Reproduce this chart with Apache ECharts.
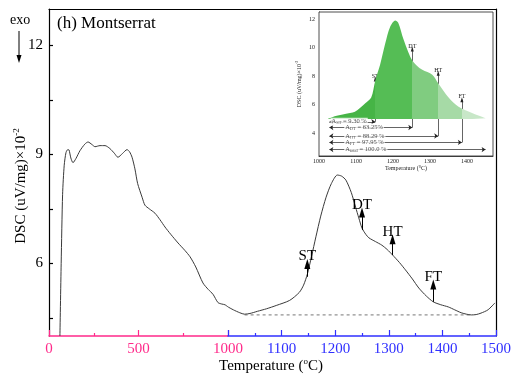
<!DOCTYPE html>
<html><head><meta charset="utf-8">
<script src="https://cdn.jsdelivr.net/npm/echarts@6/dist/echarts.min.js"></script>
<style>html,body{margin:0;padding:0;background:#fff}#c{width:514px;height:376px}</style>
</head><body><div id="c"></div>
<script>
// ---- data ----
const mainTemps = [61,68,76,85,95,105,112,122,134,150,173,200,218,240,257,285,313,340,365,385,410,436,450,464,480,495,520,536,560,592,620,648,680,721,760,788,820,860,890,916,944,965,983,1000,1010,1022,1031,1041,1055,1072,1090,1115,1133,1141,1148,1156,1164,1173,1183,1193,1204,1212,1220,1230,1238,1244,1250,1257,1263,1275,1287,1297,1307,1320,1331,1344,1356,1370,1383,1397,1411,1423,1435,1445,1454,1463,1472,1485,1498];
const mainDSC   = [4.0,6.0,7.9,8.7,9.05,9.13,9.12,8.9,8.77,8.88,9.1,9.28,9.34,9.27,9.21,9.24,9.24,9.16,9.03,8.92,9.02,9.13,9.07,8.92,8.6,8.2,7.82,7.6,7.5,7.38,7.2,7.0,6.8,6.56,6.35,6.18,5.9,5.46,5.28,5.15,4.92,4.88,4.86,4.8,4.72,4.64,4.6,4.62,4.68,4.75,4.84,4.98,5.2,5.4,5.7,6.2,6.73,7.3,7.82,8.2,8.43,8.4,8.29,7.95,7.55,7.25,6.97,6.8,6.7,6.6,6.5,6.38,6.23,6.02,5.82,5.57,5.32,5.1,4.94,4.86,4.8,4.72,4.64,4.6,4.58,4.59,4.63,4.72,4.91];
const baselineTemps = [1031, 1455];
const baselineDSC = [4.58, 4.58];
const markerNames = ['ST','DT','HT','FT'];
const markerTemps = [1148,1250,1307,1383];
const markerFrom  = [5.63,6.92,6.23,4.94];
const markerTo    = [5.98,7.4,6.66,5.42];

const insetTemps = [1024,1045,1070,1097,1125,1141,1152,1165,1179,1192,1206,1214,1228,1241,1252,1266,1279,1306,1322,1350,1377,1415,1450];
const insetDSC   = [5.0,5.2,5.35,5.5,6.1,6.5,7.7,8.8,10.3,11.45,11.9,11.75,10.6,9.7,9.1,8.7,8.45,8.1,7.5,6.5,5.85,5.4,5.05];
const insetMarkerTemps = [1152,1252,1322,1386];
const insetMarkerTop   = [7.8,9.9,8.2,6.35];
const areaSubs     = ['ST','DT','HT','FT','total'];
const areaPercents = ['9.30 %','63.25%','88.29 %','97.95 %','100.0 %'];
const areaRowDSC   = [4.8,4.4,3.8,3.35,2.85];
const areaRowEnds  = [1152,1252,1322,1386,1450];
const boxTemps = [1028,1450];
const boxDSC   = [5.0,2.6];

const yTicks = [4.5,6,7.5,9,10.5,12];
const yLabels = [6,9,12];
const insetYLabels = [4,6,8,10,12];

// ---- styles ----
const SERIF = 'Liberation Serif';
const PINK = '#ff2a8a';
const BLUE = '#3030ff';
const segColors = ['#46b446','#55bd55','#80cc80','#a6daa6','#c8e7c8'];
const plain = v => String(v);

const pts = mainTemps.map((t,i)=>[t, mainDSC[i]]);
const leftData = pts.filter(p=>p[0]<=1000);
const rightData = pts.filter(p=>p[0]>=1000);
const insetData = insetTemps.map((t,i)=>[t, insetDSC[i]]);

const pieces = [];
const bounds = [null].concat(insetMarkerTemps).concat([null]);
for (let i=0;i<bounds.length-1;i++){
  const p = {color: segColors[i]};
  if (bounds[i]!==null) p.gte = bounds[i];
  if (bounds[i+1]!==null) p.lt = bounds[i+1];
  pieces.push(p);
}

const chart = echarts.init(document.getElementById('c'), null, {renderer:'canvas'});
const supRich = {
  a:{fontFamily:SERIF, fontSize:15, color:'#000'},
  s:{fontFamily:SERIF, fontSize:9, color:'#000', padding:[0,0,9,0]}
};
const option = {
  animation:false,
  backgroundColor:'#fff',
  grid:[
    {left:49, top:9, width:179, height:327},
    {left:228, top:9, width:270, height:327},
    {left:319, top:12, width:174, height:144, show:true, backgroundColor:'#fff', borderColor:'#222', borderWidth:0.8, z:5}
  ],
  xAxis:[
    {gridIndex:0, type:'value', min:0, max:1000, interval:500,
     axisLine:{lineStyle:{color:PINK, width:1.5}}, axisTick:{inside:true, length:6, lineStyle:{color:PINK, width:1.2}},
     minorTick:{show:true, splitNumber:2, length:3, lineStyle:{color:PINK, width:1.2}},
     axisLabel:{color:PINK, fontFamily:SERIF, fontSize:15, margin:6, formatter:plain}, splitLine:{show:false}},
    {gridIndex:1, type:'value', min:1000, max:1500, interval:100,
     axisLine:{lineStyle:{color:BLUE, width:1.5}}, axisTick:{inside:true, length:6, lineStyle:{color:BLUE, width:1.2}},
     minorTick:{show:true, splitNumber:2, length:3, lineStyle:{color:BLUE, width:1.2}},
     axisLabel:{color:BLUE, fontFamily:SERIF, fontSize:15, margin:6, showMinLabel:false, formatter:plain}, splitLine:{show:false}},
    {gridIndex:0, type:'value', position:'top', min:0, max:1000, axisLine:{lineStyle:{color:'#000', width:1.2}}, axisTick:{show:false}, axisLabel:{show:false}, splitLine:{show:false}},
    {gridIndex:1, type:'value', position:'top', min:1000, max:1500, axisLine:{lineStyle:{color:'#000', width:1.2}}, axisTick:{show:false}, axisLabel:{show:false}, splitLine:{show:false}},
    {gridIndex:2, type:'value', min:1000, max:1470, interval:100,
     axisLine:{lineStyle:{color:'#222', width:0.8}}, axisTick:{inside:true, length:2, lineStyle:{color:'#222', width:0.8}},
     axisLabel:{color:'#222', fontFamily:SERIF, fontSize:6, margin:2, showMaxLabel:false, formatter:plain}, splitLine:{show:false},
     name:'Temperature (°C)', nameLocation:'middle', nameGap:9, nameTextStyle:{fontFamily:SERIF, fontSize:6, color:'#222'}}
  ],
  yAxis:[
    {gridIndex:0, type:'value', min:4, max:13,
     axisLine:{show:true, lineStyle:{color:'#000', width:1.2}},
     axisTick:{show:true, inside:true, length:4, customValues:yTicks, lineStyle:{color:'#000', width:1.2}},
     axisLabel:{customValues:yLabels, fontFamily:SERIF, fontSize:15, color:'#000', margin:6}, splitLine:{show:false}},
    {gridIndex:1, type:'value', position:'right', min:4, max:13,
     axisLine:{show:true, lineStyle:{color:'#000', width:1.2}}, axisTick:{show:false}, axisLabel:{show:false}, splitLine:{show:false}},
    {gridIndex:2, type:'value', min:2.4, max:12.5,
     axisLine:{show:true, lineStyle:{color:'#222', width:0.8}},
     axisTick:{show:true, inside:true, length:2, customValues:insetYLabels, lineStyle:{color:'#222', width:0.8}},
     axisLabel:{customValues:insetYLabels, fontFamily:SERIF, fontSize:6, color:'#222', margin:4}, splitLine:{show:false},
     name:'{a|DSC (uV/mg)×10}{s|-2}', nameLocation:'middle', nameGap:16, nameRotate:90,
     nameTextStyle:{rich:{a:{fontFamily:SERIF, fontSize:6, color:'#222'}, s:{fontFamily:SERIF, fontSize:4, color:'#222', padding:[0,0,4,0]}}}}
  ],
  visualMap:[{type:'piecewise', show:false, dimension:0, seriesIndex:3, pieces:pieces}],
  series:[
    {type:'line', xAxisIndex:0, yAxisIndex:0, data:leftData, symbol:'none', smooth:0.25,
     lineStyle:{color:'#3a3a3a', width:1}},
    {type:'line', xAxisIndex:1, yAxisIndex:1, data:rightData, symbol:'none', smooth:0.25,
     lineStyle:{color:'#3a3a3a', width:1},
     markLine:{silent:true, symbol:['none','triangle'], symbolSize:[6,10],
       lineStyle:{color:'#000', width:1, type:'solid'},
       label:{show:true, position:'end', formatter:'{b}', fontFamily:SERIF, fontSize:15, color:'#000', distance:0},
       data: markerTemps.map((t,i)=>[{name:markerNames[i], coord:[t, markerFrom[i]]},{coord:[t, markerTo[i]]}])}},
    {type:'line', xAxisIndex:1, yAxisIndex:1, data:baselineTemps.map((t,i)=>[t, baselineDSC[i]]), symbol:'none',
     lineStyle:{color:'#555', width:0.8, type:[3,3]}},
    {type:'line', xAxisIndex:4, yAxisIndex:2, data:insetData, symbol:'none', smooth:0.3, z:6,
     lineStyle:{width:0}, areaStyle:{origin:boxDSC[0], opacity:1}},
    {type:'line', xAxisIndex:4, yAxisIndex:2, data:[], z:7,
     markArea:{silent:true, itemStyle:{color:'#fff', borderColor:'#666', borderWidth:0.8},
       data:[[{coord:[boxTemps[0], boxDSC[0]]},{coord:[boxTemps[1], boxDSC[1]]}]]},
     markLine:{silent:true, symbol:['none','triangle'], symbolSize:[3,5],
       lineStyle:{color:'#222', width:0.7, type:'solid'},
       label:{show:true, position:'end', formatter:'{b}', fontFamily:SERIF, fontSize:6, color:'#222', distance:0},
       data: insetMarkerTemps.map((t,i)=>[{name:markerNames[i], coord:[t, areaRowDSC[i]]},{coord:[t, insetMarkerTop[i]]}])
         .concat(areaRowEnds.map((t,i)=>[{name:'', coord:[boxTemps[0], areaRowDSC[i]], symbol:'arrow', symbolSize:4, label:{show:false}},{coord:[t, areaRowDSC[i]], symbol:'arrow', symbolSize:4}]))
     }},
    {type:'scatter', xAxisIndex:4, yAxisIndex:2, z:8, symbolSize:0, silent:true,
     data: areaRowDSC.map((v,i)=>({value:[boxTemps[0] + (i===0?3:40), v], sub:areaSubs[i], pct:areaPercents[i]})),
     label:{show:true, position:'right', distance:0, backgroundColor:'#fff', padding:[0,1],
       formatter:(p)=>'{a|A}{s|'+p.data.sub+'}{a| = '+p.data.pct+'}',
       rich:{a:{fontFamily:SERIF, fontSize:6.5, color:'#222'}, s:{fontFamily:SERIF, fontSize:4.5, color:'#222', padding:[3,0,0,0]}}}}
  ],
  graphic:[
    {type:'text', left:57, top:15, style:{text:'(h) Montserrat', fontFamily:SERIF, fontSize:17, fill:'#000'}},
    {type:'text', left:10, top:13, style:{text:'exo', fontFamily:SERIF, fontSize:14, fill:'#000'}},
    {type:'line', shape:{x1:19,y1:31,x2:19,y2:57}, style:{stroke:'#000', lineWidth:1}},
    {type:'polygon', shape:{points:[[16.5,55],[21.5,55],[19,63]]}, style:{fill:'#000'}},
    {type:'text', x:21, y:186, rotation:Math.PI/2, style:{text:'{a|DSC (uV/mg)×10}{s|-2}', rich:supRich, align:'center', verticalAlign:'middle'}},
    {type:'text', x:271, y:366, style:{text:'{a|Temperature (}{s|o}{a|C)}', rich:supRich, align:'center', verticalAlign:'middle'}}
  ]
};
chart.setOption(option);
</script>
</body></html>
